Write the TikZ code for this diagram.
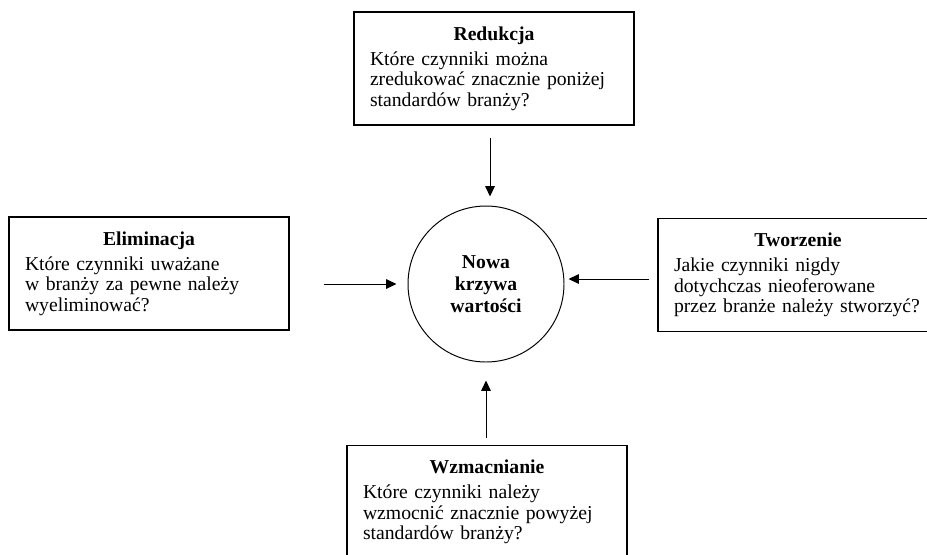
\documentclass[tikz,border=0pt]{standalone}
\usepackage{fontspec}
\setmainfont{Liberation Serif}
\usetikzlibrary{arrows.meta}
\tikzset{blok/.style={draw=black,rectangle,line width=1pt,minimum width=7cm,minimum height=2.825cm,text width=6.2cm,inner xsep=0.4cm,align=left,font=\fontsize{14}{14.6}\selectfont}}
\tikzset{krzywa/.style={draw=black,circle,line width=0.7pt,minimum size=3.9cm,align=center,font=\fontsize{14}{15.5}\selectfont\bfseries}}
\tikzset{strz/.style={line width=0.7pt,-{Triangle[length=0.26cm,width=0.24cm]}}}
\newcommand{\tytul}[1]{\makebox[\linewidth]{\textbf{#1}}}

\begin{document}
\begin{tikzpicture}
                \clip (0,0) rectangle (23.175,-13.85);

                \node[krzywa] (krzywa) at (12.15,-7.1) {Nowa\\krzywa\\wartości};
                \node[blok] (redukcja) at (12.35,-1.7125) {\tytul{Redukcja}\\[3pt]Które czynniki można\\zredukować znacznie poniżej\\standardów branży?};
                \node[blok] (eliminacja) at (3.725,-6.8375) {\tytul{Eliminacja}\\[3pt]Które czynniki uważane\\w branży za pewne należy\\wyeliminować?};
                \node[blok] (tworzenie) at (19.95,-6.875) {\tytul{Tworzenie}\\[3pt]Jakie czynniki nigdy\\dotychczas nieoferowane\\przez branże należy stworzyć?};
                \node[blok] (wzmacnianie) at (12.175,-12.55) {\tytul{Wzmacnianie}\\[3pt]Które czynniki należy\\wzmocnić znacznie powyżej\\standardów branży?};

                \draw[strz,shorten <=0.3cm,shorten >=0.225cm] ([xshift=0.1cm]krzywa.north |- redukcja.south) -- ([xshift=0.1cm]krzywa.north);
                \draw[strz,shorten <=0.85cm,shorten >=0.275cm] (eliminacja.east |- krzywa) -- (krzywa);
                \draw[strz,shorten <=0.2cm,shorten >=0.1cm] ([yshift=0.125cm]tworzenie.west |- krzywa) -- ([yshift=0.125cm]krzywa.east);
                \draw[strz,shorten <=0.175cm,shorten >=0.45cm] (krzywa.south |- wzmacnianie.north) -- (krzywa.south);
                \end{tikzpicture}
\end{document}
